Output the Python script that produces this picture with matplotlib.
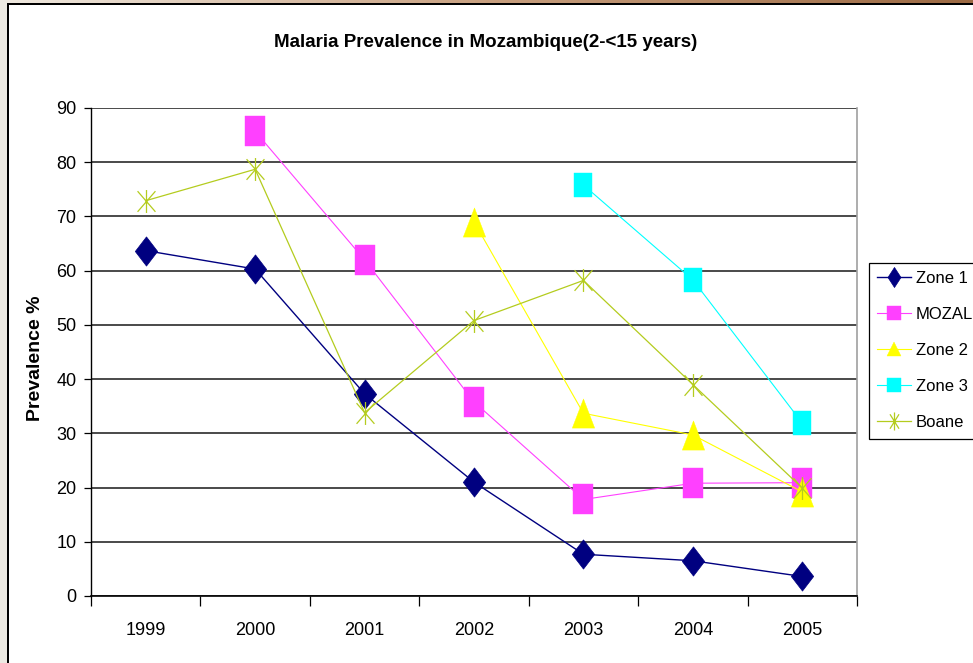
import numpy as np
import matplotlib
matplotlib.use("Agg")
import matplotlib.pyplot as plt
from matplotlib.path import Path
from matplotlib.lines import Line2D
from matplotlib.patches import Rectangle
from matplotlib.colors import LinearSegmentedColormap

years = ["1999", "2000", "2001", "2002", "2003", "2004", "2005"]
zone1 = [63.7, 60.3, 37.3, 21.0, 7.7, 6.5, 3.6]
mozal = [None, 85.7, 62.0, 35.8, 17.8, 20.8, 20.9]
zone2 = [None, None, None, 69.0, 33.7, 29.7, 19.2]
zone3 = [None, None, None, None, 75.8, 58.3, 31.9]
boane = [72.9, 78.7, 33.8, 50.8, 58.2, 39.0, 19.9]
series_names = ["Zone 1", "MOZAL", "Zone 2", "Zone 3", "Boane"]
yticks = [0, 10, 20, 30, 40, 50, 60, 70, 80, 90]
title = "Malaria Prevalence in Mozambique(2-<15 years)"
ylabel = "Prevalence %"

NARROW = ["Liberation Sans Narrow", "Liberation Sans", "DejaVu Sans"]
REG = ["Liberation Sans", "DejaVu Sans"]

def poly(pts):
    pts = list(pts) + [pts[0]]
    codes = [Path.MOVETO] + [Path.LINETO] * (len(pts) - 2) + [Path.CLOSEPOLY]
    return Path(pts, codes)

def asterisk(w, h):
    v = [(0, -1), (0, 1), (-w, -h), (w, h), (-w, h), (w, -h)]
    c = [Path.MOVETO, Path.LINETO] * 3
    return Path(v, c)

diamond = poly([(0, 1), (0.767, 0), (0, -1), (-0.767, 0)])
rect_m = poly([(-0.69, -1), (0.69, -1), (0.69, 1), (-0.69, 1)])
tri = poly([(0, 1), (0.767, -1), (-0.767, -1)])
rect_z3 = poly([(-0.78, -1), (0.78, -1), (0.78, 1), (-0.78, 1)])
ast = asterisk(0.78, 0.9)

diamond_l = poly([(0, 1), (0.65, 0), (0, -1), (-0.65, 0)])
ast_l = asterisk(0.5, 0.8)

styles = [
    dict(color="#000080", lw=1.0, marker=diamond, ms=21, mfc="#000080", mec="#000080", mew=0.5),
    dict(color="#FF40FF", lw=0.8, marker=rect_m, ms=21, mfc="#FF40FF", mec="#FF40FF", mew=0.3),
    dict(color="#FFFF00", lw=0.8, marker=tri, ms=21, mfc="#FFFF00", mec="#FFFF00", mew=0.3),
    dict(color="#00FFFF", lw=0.8, marker=rect_z3, ms=17.5, mfc="#00FFFF", mec="#00FFFF", mew=0.3),
    dict(color="#B4CC1E", lw=0.9, marker=ast, ms=16.5, mfc="none", mec="#B4CC1E", mew=0.9),
]
legend_markers = [
    dict(marker=diamond_l, ms=14.4),
    dict(marker="s", ms=9.4),
    dict(marker="^", ms=9.4),
    dict(marker="s", ms=9.4),
    dict(marker=ast_l, ms=13),
]

W, H = 973, 663
fig = plt.figure(figsize=(W / 100, H / 100), dpi=100)
fig.patch.set_facecolor("white")

# frame decorations
fig.patches.append(Rectangle((0, 0), 7 / W, 1, transform=fig.transFigure,
                             facecolor="#ECE9E2", edgecolor="none", zorder=0))
fig.patches.append(Rectangle((7 / W, 0), 1.5 / W, 1 - 3 / H, transform=fig.transFigure,
                             facecolor="black", edgecolor="none", zorder=1))
fig.patches.append(Rectangle((7 / W, 1 - 4.5 / H), 1 - 7 / W, 1.5 / H, transform=fig.transFigure,
                             facecolor="black", edgecolor="none", zorder=1))
gax = fig.add_axes([0, 1 - 3 / H, 1, 3 / H])
grad = np.linspace(0, 1, 256)[None, :]
cmap = LinearSegmentedColormap.from_list("g", ["#EFE9E0", "#C8A080", "#9C6A44"])
gax.imshow(grad, aspect="auto", cmap=cmap)
gax.set_axis_off()

ax = fig.add_axes([91 / W, 1 - 596 / H, (857 - 91) / W, (596 - 108) / H])
x = np.arange(len(years))
all_series = [zone1, mozal, zone2, zone3, boane]
for i, (vals, st) in enumerate(zip(all_series, styles)):
    y = np.array(vals, dtype=float)
    ax.plot(x, y, linestyle="-", zorder=3 + i, clip_on=False, **st)

ax.set_xlim(-0.5, len(years) - 0.5)
ax.set_ylim(0, 90)
ax.set_yticks(yticks)
ax.set_yticklabels([str(v) for v in yticks], fontfamily=REG, fontsize=13)
ax.tick_params(axis="y", direction="out", length=5, width=0.9, color="black", pad=5.5)
ax.set_xticks(np.arange(-0.5, len(years), 1.0))
ax.set_xticklabels([])
ax.set_xticks(x, minor=True)
ax.set_xticklabels(years, minor=True, fontfamily=NARROW, fontsize=13)
ax.tick_params(axis="x", which="major", direction="out", length=7, width=0.9, color="black")
ax.tick_params(axis="x", which="minor", length=0, pad=19)
ax.yaxis.grid(True, color="#3c3c3c", lw=1.3)
ax.set_axisbelow(True)
ax.spines["top"].set_visible(False)
ax.spines["right"].set_color("#A0A0A0")
ax.spines["right"].set_linewidth(1.2)
ax.spines["left"].set_linewidth(1.0)
ax.spines["bottom"].set_linewidth(1.2)

fig.text(486 / W, 1 - 47 / H, title, ha="center", va="baseline",
         fontfamily=NARROW, fontweight="bold", fontsize=13.5)
fig.text(35 / W, 1 - 358 / H, ylabel, ha="center", va="center", rotation=90,
         fontfamily=REG, fontweight="bold", fontsize=14)

handles = []
for st, lm in zip(styles, legend_markers):
    handles.append(Line2D([0], [0], color=st["color"], lw=st["lw"], marker=lm["marker"],
                          ms=lm["ms"], mfc=st["mfc"], mec=st["mec"], mew=st["mew"]))
leg = fig.legend(handles, series_names, loc="upper left",
                 bbox_to_anchor=(869 / W, 1 - 263 / H), bbox_transform=fig.transFigure,
                 borderaxespad=0, frameon=True, fancybox=False, edgecolor="black",
                 framealpha=1, prop={"family": REG, "size": 12}, handlelength=2.0,
                 handletextpad=0.3, borderpad=0.5, labelspacing=1.26)
leg.get_frame().set_linewidth(0.9)

fig.savefig("out.png", dpi=100)
